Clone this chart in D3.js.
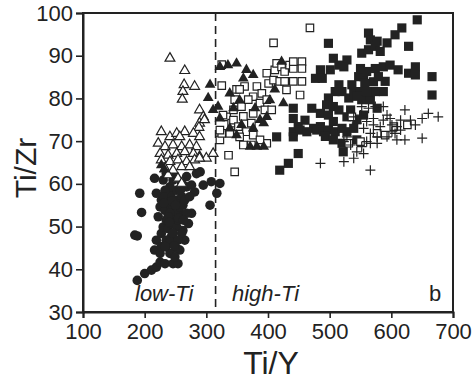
<!DOCTYPE html>
<html><head><meta charset="utf-8">
<script src="https://cdn.jsdelivr.net/npm/d3@7"></script>
<style>body{margin:0;background:#fff}svg{display:block}</style>
</head><body>
<svg id="c" width="475" height="380"></svg>
<script>
const xTicks=[100,200,300,400,500,600,700];
const yTicks=[30,40,50,60,70,80,90,100];
const boundaryTiY=315;
const filledCircles=[[184,48],[188,47.8],[192,57.8],[195,53.3],[188,37.4],[200,39],[211,39.8],[219,40.5],[225,41.7],[233,41.3],[246,41.3],[254,41.3],[216,44.5],[219,46.8],[216,61.3],[230,60.9],[235,62.4],[249,61.7],[268,59.3],[284,62.4],[290,62.8],[281,58.1],[295,59.7],[306,55],[308,60.5],[322,60.1],[317,57.8],[276,53.1],[271,50.7],[262,49.1],[265,46.8],[257,44.5],[252,44.9],[243,47.6],[235,45.3],[227,48.4],[230,49.9],[235,51.5],[246,52.3],[257,53.1],[225,54.6],[227,56.2],[235,57],[243,57.8],[252,56.2],[260,57],[262,55],[233,53.8],[238,55.4],[246,54.6],[252,58.5],[241,59.3],[233,58.5],[238,49.5],[243,50.7],[252,49.9],[246,48.4],[235,46.8],[227,45.3],[241,43.7],[249,42.9],[225,43.7],[260,48.4],[268,53.1],[254,51.5],[249,53.1],[241,53.1],[238,52.3],[257,54.6],[265,56.2],[273,57],[276,59.7],[260,60.1],[268,61.7],[246,60.9],[230,57],[219,57.8],[222,52.3],[241,46.4],[254,46.8],[233,45.3],[244,56],[250,55],[255,52],[240,51],[248,45.5],[258,58.5],[263,51.5],[231,55.5]];
const openTriangles=[[241,89.4],[265,86.5],[264,83.2],[281,82.8],[262,81.6],[261,79.8],[289,77.3],[295,75.7],[289,74.2],[297,75],[288,73.2],[227,72.2],[241,71],[252,71.8],[265,72.2],[279,71.8],[289,71],[257,71],[222,69.5],[233,68.7],[246,69.1],[260,68.7],[273,69.1],[284,68.7],[225,67.1],[238,66.7],[252,67.1],[265,67.5],[279,67.1],[289,66.4],[300,66],[311,67.1],[227,65.6],[241,65.2],[254,65.6],[268,65.2],[281,65.6],[233,63.6],[246,63.2],[260,64],[273,64],[238,62.1],[254,61.3],[260,60.1],[289,66]];
const filledTriangles=[[306,83.2],[303,80.1],[322,87.4],[335,87.8],[349,88.2],[360,84.7],[376,85.5],[365,86.7],[425,78.9],[322,75.3],[338,73],[349,71.4],[357,73.8],[371,68.7],[382,68.7],[393,68.7],[379,77.7],[376,73],[387,75],[393,74.2],[398,75.7],[319,78.1],[344,77.7],[354,79.6],[338,81.2],[311,77.3],[403,79.6],[411,82.1],[422,88.6],[227,64.4],[232,63.4]];
const openSquares=[[468,96.5],[409,93],[325,87.9],[325,83],[336,66.7],[346,62.8],[322,70.3],[325,71.8],[333,75.7],[341,74.2],[344,77.3],[346,79.7],[349,82.1],[362,82.8],[357,78.1],[360,75.8],[365,72.2],[354,71],[360,69.1],[373,69.1],[376,71.4],[373,74.2],[376,76.5],[376,80.4],[382,82.8],[390,81.2],[387,78.9],[395,77.3],[398,79.7],[398,85.9],[401,83.5],[409,84.3],[411,86.7],[414,88.2],[422,87.4],[427,86.3],[435,87.8],[441,87],[441,88.6],[455,88.6],[455,87],[455,84],[452,80.8],[430,82],[419,84],[427,84],[441,84],[398,69.5],[387,70.3],[406,77.3],[344,74.9],[352,73.4],[338,71.8],[322,72.6],[327,76.1],[354,82.1],[368,79.7],[536,75.7],[626,73.8],[577,71.8],[550,69.9],[604,73.4],[531,69.5],[590,71.4]];
const filledSquares=[[642,98.4],[617,96.5],[606,94.9],[563,95.3],[566,93.7],[577,93.4],[593,93],[552,90.6],[563,91.4],[574,92.2],[582,91],[628,92.2],[498,92.9],[506,89.4],[528,89],[523,87.4],[515,87.8],[501,86.7],[485,86.7],[477,84.7],[488,84.7],[515,83.2],[520,81.6],[509,81.6],[498,80.1],[495,78.5],[506,78.1],[531,80.1],[539,81.2],[536,83.2],[547,85.1],[555,85.1],[550,87],[560,86.3],[574,87],[587,87.4],[598,87.8],[611,86.7],[628,85.9],[639,87.4],[639,85.5],[666,85.1],[666,80.8],[587,81.6],[571,83.9],[557,83.5],[550,81.6],[552,79.7],[544,80.5],[441,77.7],[471,77.7],[485,76.5],[498,76.1],[515,77.3],[528,75.7],[506,74.6],[485,73.4],[474,73],[460,74.9],[449,73.4],[441,72.2],[452,72.6],[463,72.2],[479,72.6],[490,72.2],[498,72.6],[509,72.2],[520,73],[528,72.2],[539,73],[544,75],[555,76.1],[534,77.3],[544,70.3],[493,71.1],[506,70.3],[522,67.5],[520,69.5],[414,71],[441,71],[449,67.1],[433,64.8],[419,63.2],[441,75.3],[577,77.7],[566,79.7],[574,81.6],[560,81.6],[590,84],[579,85.1]];
const crosses=[[660,76.5],[676,75.7],[650,75.3],[650,70.7],[622,77.3],[622,70.3],[606,71.8],[609,73.4],[615,74.9],[598,75.3],[587,74.9],[593,76.1],[601,73.8],[582,73.4],[571,73.8],[560,74.6],[563,77.7],[552,78.1],[574,78.1],[587,78.1],[550,76.1],[539,75.7],[555,73],[566,71.8],[577,71],[560,69.9],[552,68.7],[544,67.5],[555,67.1],[534,69.1],[523,69.9],[528,71],[566,69.5],[577,69.5],[593,71],[523,65.2],[485,64.8],[566,63.2],[539,66],[615,72.6],[631,74.9],[639,73.8],[571,75.3],[544,74.2],[609,70.3],[601,72.2]];

const ink="#222";
const svg=d3.select("#c");
const L=83,R=453,T=13,B=312;
const x=d3.scaleLinear().domain([100,700]).range([L,R]);
const y=d3.scaleLinear().domain([30,100]).range([B,T]);
const font="'Liberation Sans', Arial, Helvetica, sans-serif";

const plot=svg.append("g");
plot.append("line").attr("x1",x(boundaryTiY)).attr("x2",x(boundaryTiY)).attr("y1",T).attr("y2",B)
  .attr("stroke",ink).attr("stroke-width",1.6).attr("stroke-dasharray","8,5");

const sym=(type,size)=>d3.symbol().type(type).size(size)();
function pts(data,path,fill,stroke,sw){
  plot.append("g").selectAll("path").data(data).join("path")
    .attr("transform",d=>`translate(${x(d[0])},${y(d[1])})`)
    .attr("d",path).attr("fill",fill).attr("stroke",stroke).attr("stroke-width",sw);
}
pts(filledCircles,sym(d3.symbolCircle,72),ink,"none",0);
pts(openTriangles,sym(d3.symbolTriangle,42),"#fff",ink,1.2);
pts(filledSquares,sym(d3.symbolSquare,84),ink,"none",0);
pts(openSquares,sym(d3.symbolSquare,56),"#fff",ink,1.2);
pts(filledTriangles,sym(d3.symbolTriangle,50),ink,"none",0);
pts(crosses,"M-5,0H5M0,-5V5","none",ink,1.2);

svg.append("rect").attr("x",L).attr("y",T).attr("width",R-L).attr("height",B-T)
  .attr("fill","none").attr("stroke",ink).attr("stroke-width",2);

const xa=svg.append("g").attr("transform",`translate(0,${B})`)
  .call(d3.axisBottom(x).tickValues(xTicks).tickSize(6).tickPadding(5).tickFormat(d3.format("d")));
const ya=svg.append("g").attr("transform",`translate(${L},0)`)
  .call(d3.axisLeft(y).tickValues(yTicks).tickSize(7).tickPadding(3).tickFormat(d3.format("d")));
[xa,ya].forEach(a=>{
  a.select(".domain").attr("stroke",ink).attr("stroke-width",2);
  a.selectAll(".tick line").attr("stroke",ink).attr("stroke-width",1.6);
  a.selectAll("text").attr("fill",ink).style("font-family",font).style("font-size","22px");
});

svg.append("text").attr("x",271).attr("y",374).attr("text-anchor","middle")
  .style("font-family",font).style("font-size","32px").attr("fill",ink).text("Ti/Y");
svg.append("text").attr("transform","translate(36,168) rotate(-90)").attr("text-anchor","middle")
  .style("font-family",font).style("font-size","30px").attr("fill",ink).text("Ti/Zr");
svg.append("text").attr("x",135).attr("y",301).style("font-family",font).style("font-style","italic")
  .style("font-size","22px").attr("fill",ink).text("low-Ti");
svg.append("text").attr("x",232).attr("y",301).style("font-family",font).style("font-style","italic")
  .style("font-size","22px").attr("fill",ink).text("high-Ti");
svg.append("text").attr("x",429).attr("y",301).style("font-family",font)
  .style("font-size","22px").attr("fill",ink).text("b");
</script>
</body></html>
